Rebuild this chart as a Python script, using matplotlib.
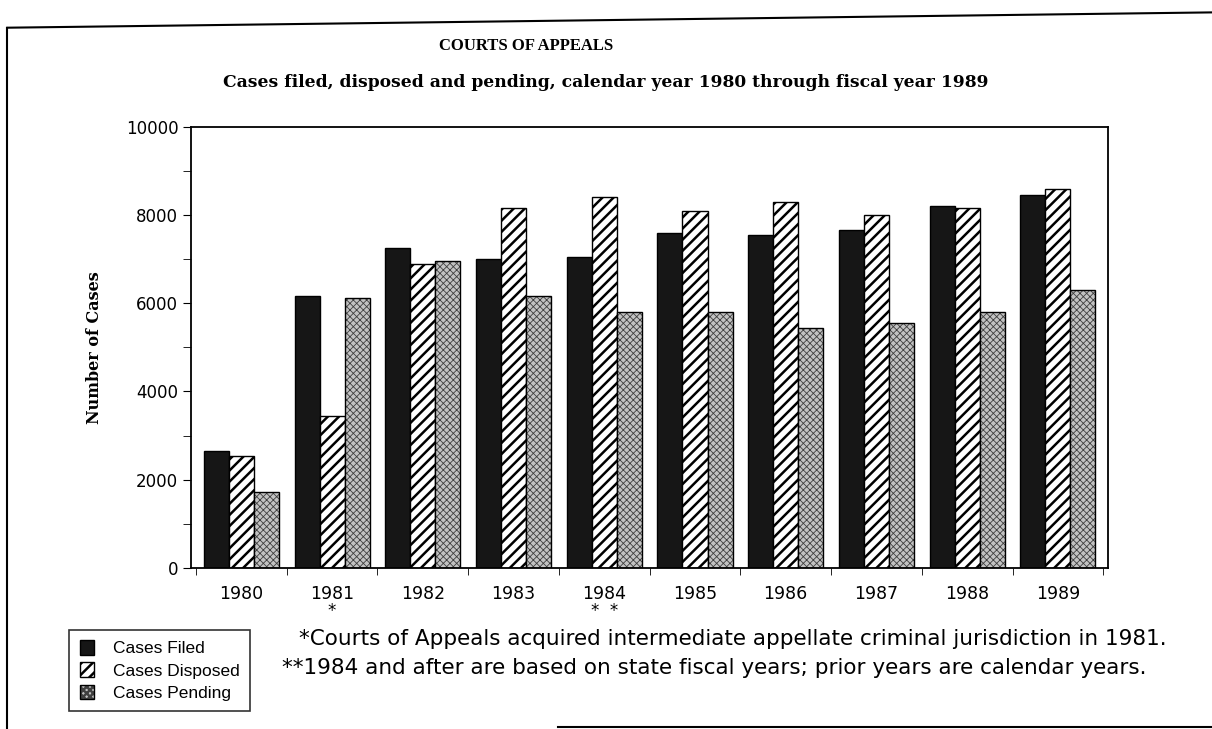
import numpy as np
import matplotlib.pyplot as plt
from matplotlib.lines import Line2D
from matplotlib.ticker import MultipleLocator

# values
years = ["1980", "1981", "1982", "1983", "1984", "1985", "1986", "1987", "1988", "1989"]
filed = [2650, 6170, 7250, 7000, 7050, 7600, 7550, 7650, 8200, 8450]
disposed = [2530, 3450, 6900, 8150, 8400, 8100, 8300, 8000, 8150, 8600]
pending = [1730, 6130, 6950, 6170, 5800, 5800, 5450, 5550, 5800, 6300]
series_names = ["Cases Filed", "Cases Disposed", "Cases Pending"]
footnotes = [
    "*Courts of Appeals acquired intermediate appellate criminal jurisdiction in 1981.",
    "**1984 and after are based on state fiscal years; prior years are calendar years.",
]

plt.rcParams["hatch.linewidth"] = 1.8
serif = "DejaVu Serif"
sans = "DejaVu Sans"

fig = plt.figure(figsize=(12.12, 7.29), dpi=100)
ax = fig.add_axes([0.158, 0.221, 0.756, 0.605])

x = np.arange(len(years))
w = 0.276
b1 = ax.bar(x - w, filed, w, color="#161616", edgecolor="black", linewidth=1)
b2 = ax.bar(x, disposed, w, color="white", edgecolor="black", hatch="///", linewidth=1)
# stippled bars: grey dots first, black outline on top
with plt.rc_context({"hatch.linewidth": 0.6}):
    b3 = ax.bar(x + w, pending, w, color="#c2c2c2", edgecolor="#404040", hatch="xxxxx", linewidth=0)
b3_edge = ax.bar(x + w, pending, w, fill=False, edgecolor="black", linewidth=1)

ax.set_xlim(-0.55, len(years) - 0.45)
ax.set_ylim(0, 10000)
ax.yaxis.set_major_locator(MultipleLocator(2000))
ax.yaxis.set_minor_locator(MultipleLocator(1000))
ax.set_xticks(x)
ax.set_xticklabels(years, family=sans, fontsize=12.5)
ax.set_xticks(np.arange(len(years) + 1) - 0.5, minor=True)
ax.tick_params(axis="x", which="major", length=0, pad=12)
ax.tick_params(axis="x", which="minor", length=5, direction="out")
ax.tick_params(axis="y", which="both", direction="out", length=6, labelsize=12)
for lab in ax.get_yticklabels():
    lab.set_family(sans)
for s in ax.spines.values():
    s.set_linewidth(1.3)

ax.set_ylabel("Number of Cases", family=serif, fontweight="bold", fontsize=11.5, labelpad=16)

fig.text(0.434, 0.932, "COURTS OF APPEALS", ha="center", family="Liberation Serif",
         fontweight="bold", fontsize=12)
fig.text(0.5, 0.88, "Cases filed, disposed and pending, calendar year 1980 through fiscal year 1989",
         ha="center", family=serif, fontweight="bold", fontsize=12.3)

# asterisks under the years they refer to
fig.text(0.158 + 0.756 * (1 + 0.55) / 10.1, 0.162, "*", ha="center", va="center",
         family=sans, fontsize=12)
fig.text(0.158 + 0.756 * (4 + 0.55) / 10.1, 0.162, "*  *", ha="center", va="center",
         family=sans, fontsize=12)

fig.text(0.247, 0.115, footnotes[0], family=sans, fontsize=15.5)
fig.text(0.233, 0.075, footnotes[1], family=sans, fontsize=15.5)

handles = [b1[0], b2[0], (b3[0], b3_edge[0])]
leg = fig.legend(handles, series_names, loc="upper left", bbox_to_anchor=(0.05, 0.148),
                 prop={"family": "Liberation Sans", "size": 12.5}, frameon=True, fancybox=False,
                 edgecolor="black", handlelength=0.8, handleheight=0.9, borderpad=0.6,
                 labelspacing=0.35, handletextpad=1.1)
leg.get_frame().set_linewidth(1.2)

# outer frame of the scanned page
fig.add_artist(Line2D([0.006, 0.006], [0.0, 0.962], color="black", lw=1.5))
fig.add_artist(Line2D([0.006, 1.0], [0.962, 0.983], color="black", lw=1.5))
fig.add_artist(Line2D([0.46, 1.0], [0.003, 0.003], color="black", lw=1.5))

fig.savefig("out.png", dpi=100)
